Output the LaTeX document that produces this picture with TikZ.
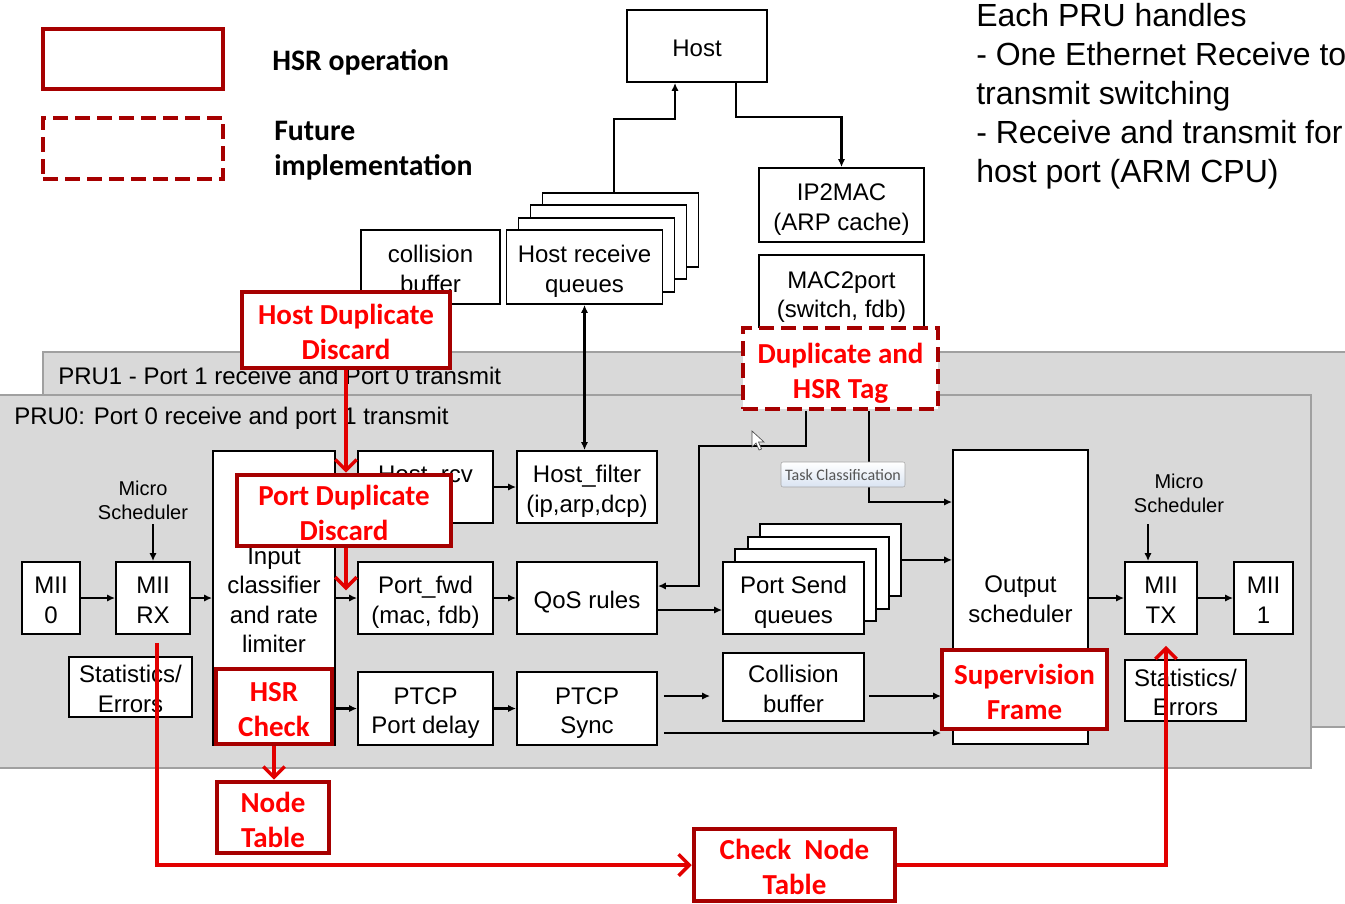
\documentclass[tikz,border=0pt]{standalone}
\usepackage{fontspec}
\setmainfont{Liberation Sans}
\newfontfamily\calib{Carlito}
\usetikzlibrary{arrows.meta,calc}
\definecolor{hsrborder}{RGB}{166,0,0}
\definecolor{hsrtext}{RGB}{255,0,0}
\definecolor{hsrline}{RGB}{226,0,0}
\definecolor{panelfill}{RGB}{217,217,217}
\definecolor{panelline}{RGB}{160,160,160}
\definecolor{tipgray}{RGB}{85,85,85}
\definecolor{tipblue}{RGB}{218,228,242}
\newcommand\bxt{\rule{0pt}{19.4pt}}
\newcommand\bxb{\rule[-3.5pt]{0pt}{3.5pt}}
\newcommand\rdt{\rule{0pt}{22.5pt}}
\newcommand\rdb{\rule[-4pt]{0pt}{4pt}}
\tikzset{
  sz/.style 2 args={minimum width=#1*0.75pt, minimum height=#2*0.75pt},
  blk/.style={draw=black, line width=1.4pt, fill=white, inner sep=0pt, align=center, font=\fontsize{18}{22}\selectfont},
  hsr/.style={draw=hsrborder, line width=3.4pt, fill=white, inner sep=0pt, align=center, text=hsrtext, font=\calib\bfseries\fontsize{21.75}{26.25}\selectfont},
  hsrdash/.style={hsr, dash pattern=on 11pt off 5.5pt},
  arr/.style={line width=1.8pt, -{Latex[length=6pt,width=5.5pt]}},
  arrtwo/.style={line width=1.8pt, {Latex[length=6pt,width=5.5pt]}-{Latex[length=6pt,width=5.5pt]}},
  redarr/.style={draw=hsrline, line width=2.6pt, -{Straight Barb[length=8pt,width=16pt]}},
  panel/.style={fill=panelfill, draw=panelline, line width=1.1pt},
  lbl/.style={inner sep=0pt, font=\fontsize{18}{22.5}\selectfont},
  small/.style={inner sep=1pt, align=center, font=\fontsize{15}{18}\selectfont},
}
\begin{document}
\begin{tikzpicture}[x=0.75pt,y=-0.75pt]
\useasboundingbox (0,0) rectangle (1345,903);
\fill[white] (0,0) rectangle (1345,903);
\clip (0,0) rectangle (1345,903);

% legend
\node[hsr, sz={180}{60}] (legsolid) at (133,59) {};
\node[hsrdash, sz={180}{61}] (legdash) at (133,148.5) {};
\node[anchor=west, inner sep=0pt, font=\calib\bfseries\fontsize{22.3}{26.25}\selectfont] (legtone) at (272,62) {HSR operation};
\node[anchor=west, inner sep=0pt, align=left, font=\calib\bfseries\fontsize{22.3}{26.25}\selectfont] (legttwo) at (274,150.5) {Future\\implementation};

% note
\node[anchor=west, inner sep=0pt, align=left, font=\fontsize{24}{29.25}\selectfont] (note) at (976,96) {Each PRU handles\\- One Ethernet Receive to\\transmit switching\\- Receive and transmit for\\host port (ARM CPU)};

% top blocks
\node[blk, sz={140}{72}] (host) at (697,46) {\bxt Host\bxb};
\node[blk, sz={165}{74}] (ip2mac) at (841.5,205) {\bxt IP2MAC\\(ARP cache)\bxb};
\node[blk, sz={165}{75}] (mac2port) at (841.5,292.5) {\bxt MAC2port\\(switch, fdb)\bxb};
\node[blk, sz={139}{74}] (collbuf) at (430.5,267) {\bxt collision\\buffer\bxb};
\node[blk, sz={156}{74}] (hrq4) at (620.5,230.1) {};
\node[blk, sz={156}{74}] (hrq3) at (608.5,242.4) {};
\node[blk, sz={156}{74}] (hrq2) at (596.5,254.7) {};
\node[blk, sz={156}{74}] (hrq) at (584.5,267) {\bxt Host receive\\queues\bxb};

\draw[arr] ($(hrq4.north)+(-6.5,0)$) |- ($(host.south)+(-22,36)$) -- ($(host.south)+(-22,0)$);
\draw[arr] ($(host.south)+(39,0)$) |- ($(ip2mac.north)+(0,-50)$) -- (ip2mac.north);

% panels
\draw[panel] (43,352) rectangle (1350,727);
\draw[panel] (-3,395) rectangle (1311,768);
\node[lbl, anchor=west] (pruone) at (58,376) {PRU1 - Port 1 receive and Port 0 transmit};
\node[lbl, anchor=west] (pruzero) at (14,418) {PRU0: Port 0 receive and port 1 transmit};

% inner blocks
\node[blk, sz={122}{294}] (input) at (274,598) {\bxt Input\\classifier\\and rate\\limiter\bxb};
\node[blk, sz={135}{72}] (hostrcv) at (425.5,487) {\bxt Host\_rcv\\(fdb)\bxb};
\node[blk, sz={140}{72}] (hostfilter) at (587,487) {\bxt Host\_filter\\(ip,arp,dcp)\bxb};
\node[blk, sz={135}{72}] (portfwd) at (425.5,598) {\bxt Port\_fwd\\(mac, fdb)\bxb};
\node[blk, sz={140}{72}] (qos) at (587,598) {\bxt QoS rules\bxb};
\node[blk, sz={141}{72}] (psq4) at (830.4,559.9) {};
\node[blk, sz={141}{72}] (psq3) at (818.1,572.6) {};
\node[blk, sz={141}{72}] (psq2) at (805.8,585.3) {};
\node[blk, sz={141}{72}] (psq) at (793.5,598) {\bxt Port Send\\queues\bxb};
\node[blk, sz={135}{73}] (ptcppd) at (425.5,708.5) {\bxt PTCP\\Port delay\bxb};
\node[blk, sz={140}{73}] (ptcpsync) at (587,708.5) {\bxt PTCP\\Sync\bxb};
\node[blk, sz={141}{68}] (colltwo) at (793.5,687) {\bxt Collision\\buffer\bxb};
\node[blk, sz={135}{294}] (output) at (1020.5,597) {\bxt Output\\scheduler\bxb};
\node[blk, sz={72}{72}] (miitx) at (1161,598) {\bxt MII\\TX\bxb};
\node[blk, sz={59}{72}] (miione) at (1263.5,598) {\bxt MII\\1\bxb};
\node[blk, sz={121}{61}] (statsr) at (1185.5,690.5) {\bxt Statistics/\\Errors\bxb};
\node[small] (msr) at (1179,493) {Micro\\Scheduler};
\node[blk, sz={58}{72}] (miizero) at (51,598) {\bxt MII\\0\bxb};
\node[blk, sz={74}{72}] (miirx) at (153,598) {\bxt MII\\RX\bxb};
\node[small] (msl) at (143,500) {Micro\\Scheduler};
\node[blk, sz={123}{60}] (statsl) at (130.5,687) {\bxt Statistics/\\Errors\bxb};

% black connectors
\draw[arrtwo] (hrq.south) -- (hrq.south |- hostfilter.north);
\draw[arr] (input.east |- hostrcv.west) -- (hostrcv.west);
\draw[arr] (hostrcv.east) -- (hostfilter.west);
\draw[arr] (input.east) -- (portfwd.west);
\draw[arr] (input.east |- ptcppd.west) -- (ptcppd.west);
\draw[arr] (portfwd.east) -- (qos.west);
\draw[arr] (ptcppd.east) -- (ptcpsync.west);
\draw[arr] ($(qos.east)+(0,12)$) -- ($(psq.west)+(0,12)$);
\draw[arr] (psq4.east) -- (psq4.east -| output.west);
\draw[arr] ($(ptcpsync.east)+(6,-12.5)$) -- ($(colltwo.west)+(-12,9)$);
\draw[arr] ($(colltwo.east)+(4,9)$) -- ($(output.west)+(-11,99)$);
\draw[arr] ($(ptcpsync.east)+(6,24.5)$) -- ($(output.west)+(-11,136)$);
\coordinate (bend) at (699,446);
\coordinate (outin) at ($(output.west)+(0,-95)$);
\draw[arr] (output.east |- miitx.west) -- (miitx.west);
\draw[arr] (miitx.east) -- (miione.west);
\draw[arr] (miizero.east) -- (miirx.west);
\draw[arr] (miirx.east) -- (miirx.east -| input.west);
\draw[arr] ($(miirx.north)+(0,-37)$) -- (miirx.north);
\draw[arr] ($(miitx.north)+(-13,-37)$) -- ($(miitx.north)+(-13,0)$);

% HSR blocks
\node[hsr, sz={208}{76}] (hostdup) at (346,330) {\rdt Host Duplicate\\Discard\rdb};
\node[hsrdash, sz={195}{81}] (duptag) at (840.5,368.5) {\rdt Duplicate and\\HSR Tag\rdb};
\node[hsr, sz={214}{71}] (portdup) at (344,510.5) {\rdt Port Duplicate\\Discard\rdb};
\node[hsr, sz={116}{75}] (hsrcheck) at (274,706.5) {\rdt HSR\\Check\rdb};
\node[hsr, sz={165}{79}] (sup) at (1024.5,689.5) {\rdt Supervision\\Frame\rdb};
\node[hsr, sz={112}{71}] (nodetable) at (273,817.5) {\rdt Node\\Table\rdb};
\node[hsr, sz={201}{72}] (cnt) at (794.5,865) {\rdt Check~ Node\\Table\rdb};

% connectors from duplicate tag
\draw[arr] ($(duptag.south)+(-34.5,0)$) |- (bend) |- ($(qos.east)+(0,-12)$);
\draw[arr] ($(duptag.south)+(28.5,0)$) |- (outin);

% red connectors
\draw[redarr] (hostdup.south) -- (hostdup.south |- portdup.north);
\draw[redarr] (hostdup.south |- portdup.south) -- ++(0,42);
\draw[redarr] (hsrcheck.south) -- (hsrcheck.south |- nodetable.north);
\draw[redarr] ($(miirx.south)+(4,8)$) |- (cnt.west);
\draw[redarr] (cnt.east) -| ($(miitx.south)+(5,11)$);

% tooltip and cursor
\node[draw=gray!70, rounded corners=1.5pt, top color=white, bottom color=tipblue, sz={124}{25}, inner sep=0pt, text=tipgray, font=\calib\fontsize{12}{13}\selectfont] (task) at (843,474.5) {Task Classification};
\draw[fill=white, draw=black!70, line width=0.5pt] (752,431) -- (752,447) -- (756,443) -- (759,450) -- (761.5,449) -- (758.5,442) -- (764,442) -- cycle;
\end{tikzpicture}
\end{document}
